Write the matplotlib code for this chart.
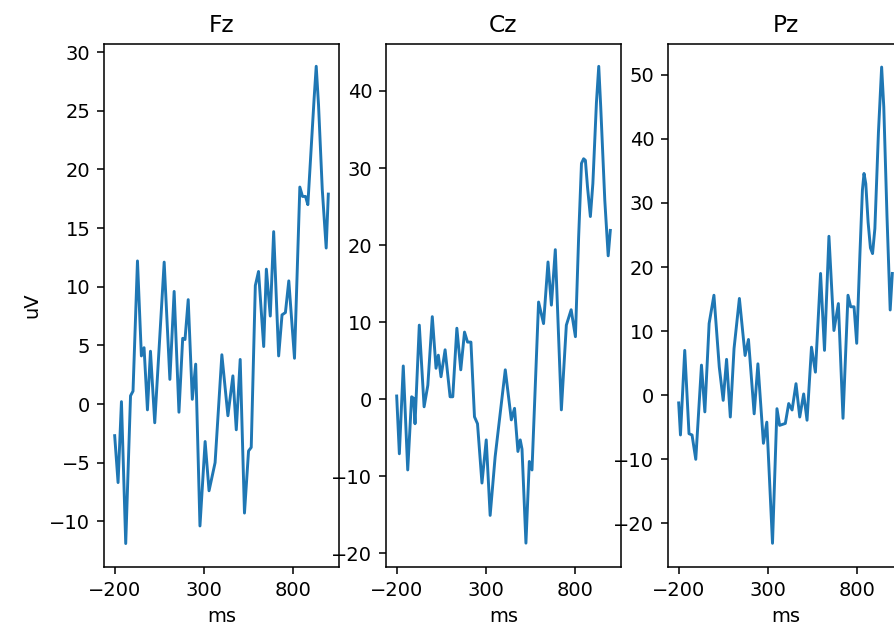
import matplotlib
matplotlib.use('Agg')
import matplotlib.pyplot as plt
import numpy as np

# ERP traces (time in ms, amplitude in uV)
fz_ms = [-200, -181, -162, -138, -111, -97, -72, -50, -35, -16, 1, 25, 78, 110, 134,
         161, 182, 195, 213, 236, 255, 279, 308, 330, 364, 402, 436, 464, 483, 505,
         529, 552, 567, 590, 608, 637, 652, 674, 693, 721, 740, 759, 778, 810, 840,
         855, 872, 885, 920, 932, 945, 966, 988, 1000]
fz_uv = [-2.7, -6.7, 0.2, -11.9, 0.7, 1.1, 12.2, 4.1, 4.8, -0.5, 4.5, -1.6, 12.1, 2.1, 9.6,
         -0.7, 5.6, 5.5, 8.9, 0.4, 3.4, -10.4, -3.2, -7.4, -5.0, 4.2, -1.0, 2.4, -2.2, 3.8,
         -9.3, -4.0, -3.7, 10.1, 11.3, 4.9, 11.5, 7.5, 14.7, 4.1, 7.6, 7.8, 10.5, 3.9, 18.5,
         17.7, 17.7, 17.0, 26.0, 28.8, 25.5, 18.3, 13.3, 17.9]

cz_ms = [-200, -185, -163, -138, -116, -105, -97, -73, -46, -25, 0, 21, 34, 49, 72,
         100, 115, 138, 160, 181, 198, 217, 237, 254, 279, 303, 325, 353, 410, 444,
         462, 481, 494, 504, 526, 545, 560, 597, 625, 650, 669, 691, 725, 753, 780,
         804, 822, 838, 850, 860, 872, 888, 902, 922, 935, 946, 969, 988, 1000]
cz_uv = [0.4, -7.1, 4.3, -9.2, 0.3, 0.1, -3.2, 9.6, -1.0, 1.8, 10.7, 4.0, 5.7, 2.9, 6.4,
         0.3, 0.3, 9.2, 3.8, 8.7, 7.4, 7.4, -2.3, -3.2, -10.9, -5.3, -15.1, -7.5, 3.8, -2.7,
         -1.2, -6.8, -5.3, -6.5, -18.7, -8.1, -9.2, 12.6, 9.8, 17.8, 12.2, 19.4, -1.4, 9.6, 11.6,
         8.1, 21.0, 30.6, 31.2, 31.0, 27.5, 23.7, 28.0, 38.5, 43.2, 38.0, 25.8, 18.6, 21.9]

pz_ms = [-200, -190, -166, -142, -125, -104, -72, -53, -29, -2, 28, 50, 69, 90, 111,
         141, 173, 192, 224, 245, 276, 295, 327, 352, 367, 399, 418, 437, 459, 480,
         502, 521, 546, 568, 597, 619, 644, 672, 697, 723, 751, 766, 785, 800, 818,
         832, 841, 851, 864, 877, 889, 902, 922, 940, 952, 970, 988, 1000]
pz_uv = [-1.2, -6.2, 7.0, -6.0, -6.2, -10.0, 4.7, -2.6, 11.2, 15.6, 4.4, -0.8, 5.6, -3.4, 7.3,
         15.1, 6.2, 8.7, -2.9, 4.9, -7.5, -4.2, -23.1, -2.1, -4.7, -4.4, -1.3, -2.3, 1.8, -3.4,
         0.2, -3.9, 7.5, 3.6, 19.0, 7.0, 24.8, 10.1, 14.3, -3.6, 15.6, 13.8, 13.8, 8.1, 22.0,
         32.0, 34.6, 33.0, 27.0, 23.0, 22.1, 26.0, 41.0, 51.2, 45.0, 28.0, 13.3, 19.0]

channels = ['Fz', 'Cz', 'Pz']
traces = [(fz_ms, fz_uv), (cz_ms, cz_uv), (pz_ms, pz_uv)]
yticks = [np.arange(-10, 31, 5), np.arange(-20, 41, 10), np.arange(-20, 51, 10)]
ylims = [(-13.9, 30.7), (-21.8, 46.1), (-26.8, 54.8)]

W, H, DPI = 894, 632, 140
fig = plt.figure(figsize=(W / DPI, H / DPI), dpi=DPI)

lefts = [104, 386, 668]
for i, (name, (ms, uv)) in enumerate(zip(channels, traces)):
    ax = fig.add_axes([lefts[i] / W, 1 - 567 / H, 235 / W, 523 / H])
    ax.plot(ms, uv)
    ax.set_title(name)
    ax.set_xlabel('ms')
    ax.set_xticks([-200, 300, 800])
    ax.set_yticks(yticks[i])
    ax.set_ylim(*ylims[i])
    if i == 0:
        ax.set_ylabel('uV')

fig.savefig('out.png', dpi=DPI)
